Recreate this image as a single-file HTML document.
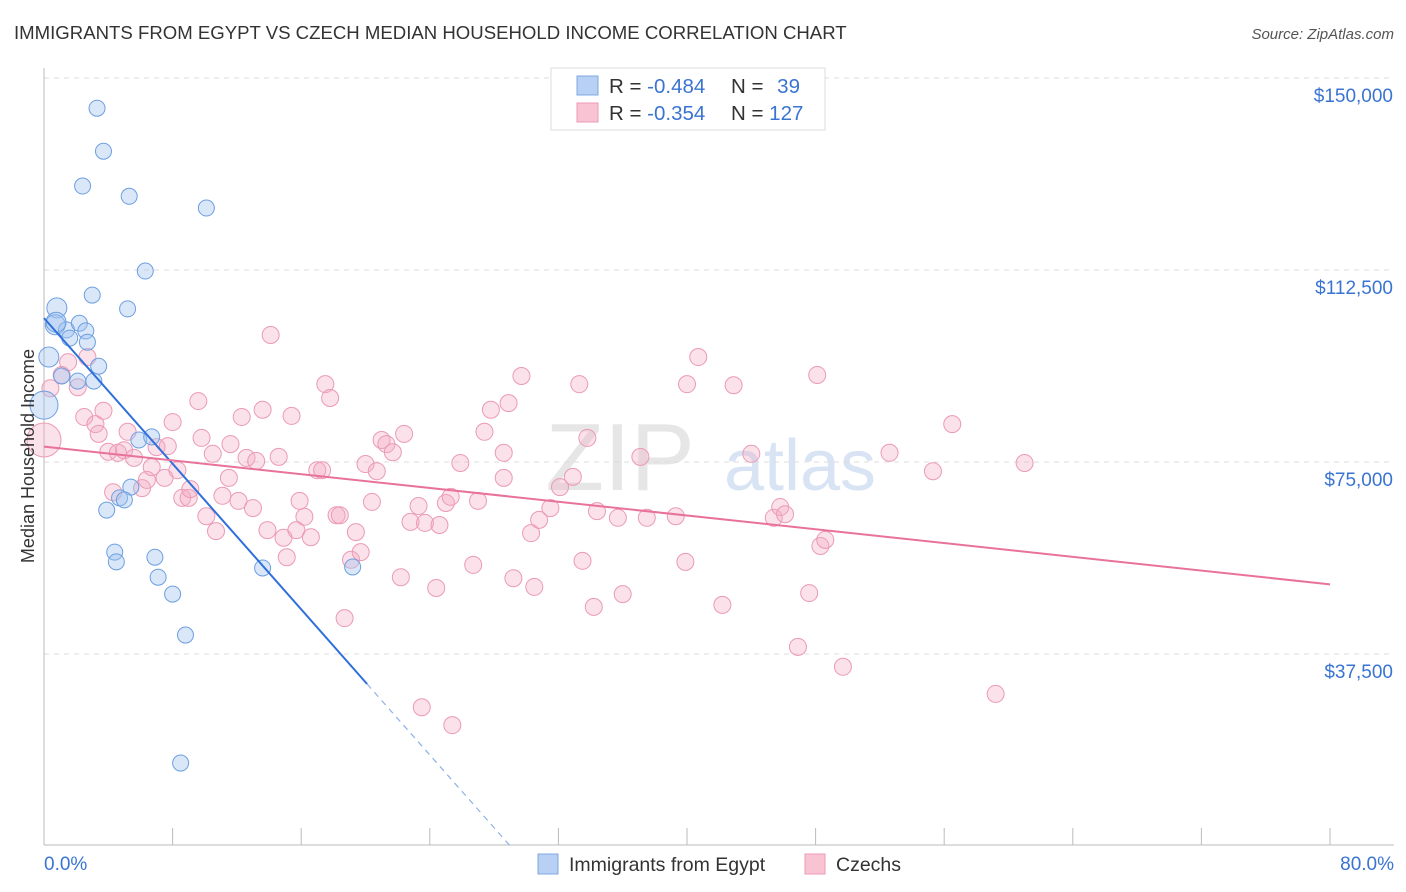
<!DOCTYPE html>
<html><head><meta charset="utf-8">
<style>
body{margin:0;background:#fff;font-family:"Liberation Sans",sans-serif;overflow:hidden;}
svg text{font-family:"Liberation Sans",sans-serif;}
</style></head>
<body>
<svg id="chart" width="1406" height="892" style="display:block">
  <text x="14" y="39" font-size="18.6" fill="#333">IMMIGRANTS FROM EGYPT VS CZECH MEDIAN HOUSEHOLD INCOME CORRELATION CHART</text>
  <text x="1394" y="39" font-size="15" fill="#555" font-style="italic" text-anchor="end">Source: ZipAtlas.com</text>
  <text x="620" y="490" font-size="96" fill="#e6e6e6" font-family="Liberation Serif" text-anchor="middle">ZIP</text>
  <text x="800" y="490" font-size="72" fill="#d8e4f4" text-anchor="middle">atlas</text>
  <g id="grid"></g>
  <g id="axes"></g>
  <g id="pts"></g>
  <g id="trends"></g>
  <text transform="translate(34,456) rotate(-90)" font-size="18" fill="#333" text-anchor="middle">Median Household Income</text>
  <g>
    <rect x="551" y="68" width="274" height="62" fill="#fff" stroke="#ddd"/>
    <rect x="577" y="76" width="21" height="19" fill="#b7d0f4" stroke="#7fa8e0"/>
    <rect x="577" y="103" width="21" height="19" fill="#f8c4d4" stroke="#ee9ab6"/>
    <text x="609" y="93" font-size="20.5" fill="#333">R = <tspan fill="#3a74d2">-0.484</tspan></text>
    <text x="731" y="93" font-size="20.5" fill="#333">N = <tspan fill="#3a74d2" dx="8">39</tspan></text>
    <text x="609" y="120" font-size="20.5" fill="#333">R = <tspan fill="#3a74d2">-0.354</tspan></text>
    <text x="731" y="120" font-size="20.5" fill="#333">N = <tspan fill="#3a74d2">127</tspan></text>
  </g>
  <g>
    <rect x="538" y="854" width="20" height="20" fill="#b7d0f4" stroke="#7fa8e0"/>
    <text x="569" y="871" font-size="19.5" fill="#333">Immigrants from Egypt</text>
    <rect x="805" y="854" width="20" height="20" fill="#f8c4d4" stroke="#ee9ab6"/>
    <text x="836" y="871" font-size="19.5" fill="#333">Czechs</text>
  </g>
</svg>
<script>
const yTicks=[37.5,75,112.5,150];
const yTickLabels=["$37,500","$75,000","$112,500","$150,000"];
const xTickCount=10;
const egyptX=[3.3,3.7,2.4,5.3,10.1,6.3,3.0,0.8,5.2,0.7,1.4,2.2,2.6,1.6,2.7,0.3,3.4,1.1,2.1,3.1,0.0,5.9,6.7,5.4,4.7,5.0,3.9,4.4,4.5,6.9,7.1,8.0,8.8,13.6,19.2,8.5,0.75];
const egyptY=[144.1,135.7,128.9,126.9,124.6,112.3,107.6,105.1,104.9,101.8,100.8,102.1,100.6,99.2,98.4,95.5,93.7,91.8,90.8,90.8,86.1,79.3,79.9,70.1,68.0,67.6,65.6,57.4,55.5,56.4,52.5,49.2,41.2,54.3,54.5,16.2,102.3];
const czechX=[0,0.4,1.1,1.5,2.1,2.7,2.5,3.2,3.4,3.7,4.0,4.6,4.98,5.2,5.6,4.3,6.1,6.4,6.7,7.0,7.5,7.7,8.0,8.3,8.6,9.0,9.1,9.6,9.8,10.1,10.5,10.7,11.1,11.5,11.6,12.1,12.3,12.6,13.0,13.2,13.6,13.9,14.1,14.6,14.9,15.1,15.4,15.7,15.9,16.2,16.6,17.0,17.3,17.5,17.8,18.2,18.4,18.7,19.1,19.4,19.7,20.0,20.4,20.7,21.0,21.3,21.7,22.2,22.4,22.8,23.3,23.5,23.7,24.4,24.6,25.0,25.3,25.4,25.9,26.7,27.0,27.4,27.8,28.6,28.6,28.9,29.2,29.7,30.3,30.5,30.8,31.5,32.1,32.9,33.3,33.5,33.8,34.2,34.4,35.7,36.0,37.1,37.5,39.3,39.9,40.0,40.7,42.2,42.9,44.0,45.4,45.8,46.1,46.9,47.6,48.1,48.3,48.6,49.7,52.6,55.3,56.5,59.2,61.0];
const czechY=[79.3,89.4,92,94.5,89.6,95.5,83.8,82.4,80.5,85,77,76.8,77.3,80.9,75.8,69.1,69.9,71.5,74,77.9,71.9,78.1,82.8,73.4,68,68,69.7,86.9,79.7,64.4,76.6,61.5,68.4,71.9,78.5,67.4,83.8,75.8,66,75.2,85.2,61.7,99.8,76,60.2,56.4,84,61.7,67.4,64.3,60.3,73.4,73.4,90.2,87.5,64.6,64.6,44.5,55.9,61.3,57.4,74.6,67.2,73.2,79.3,78.5,76.9,52.5,80.5,63.3,66.4,27.1,63.1,50.4,62.7,67,68.2,23.6,74.8,54.9,67.4,80.9,85.2,76.8,71.9,86.5,52.3,91.8,61.1,50.6,63.7,66,70.1,72.1,90.2,55.7,79.7,46.7,65.4,64.1,49.2,76,64.1,64.4,55.5,90.2,95.5,47.1,90,76.6,64.1,66.2,64.8,38.9,49.4,92,58.6,59.8,35,76.8,73.2,82.4,29.7,74.8];
const egyptTrend=[0,103.1,20,32.0];
const czechTrend=[0,78.0,80,51.1];
const egyptSolidEnd=20.1;

const NS="http://www.w3.org/2000/svg";
const X=v=>44+v*(1330-44)/80;
const Y=v=>846-v*192/37.5;
function mk(tag,attrs,parent){const e=document.createElementNS(NS,tag);for(const k in attrs)e.setAttribute(k,attrs[k]);parent.appendChild(e);return e;}
const grid=document.getElementById('grid'),axes=document.getElementById('axes'),pts=document.getElementById('pts'),tr=document.getElementById('trends');
yTicks.forEach((t,i)=>{
  const l=mk('line',{x1:44,x2:1394,y1:Y(t),y2:Y(t),stroke:'#dcdcdc','stroke-dasharray':'5,5'},grid);
  
  
  const tx=mk('text',{x:1393,y:Y(t)+24,'font-size':19,fill:'#3a74d2','text-anchor':'end'},axes);
  tx.textContent=yTickLabels[i];
  
  
});
const ax=mk('line',{x1:44,x2:1394,y1:845,y2:845,stroke:'#bbb'},axes);


const ay=mk('line',{x1:44,x2:44,y1:68,y2:845,stroke:'#bbb'},axes);


for(let i=0;i<=xTickCount;i++){
  const t=mk('line',{x1:X(i*8),x2:X(i*8),y1:828,y2:845,stroke:'#bbb'},axes);
  
  
}
const xl0=mk('text',{x:44,y:870,'font-size':19,fill:'#3a74d2'},axes);xl0.textContent='0.0%';


const xl1=mk('text',{x:1394,y:870,'font-size':19,fill:'#3a74d2','text-anchor':'end'},axes);xl1.textContent='80.0%';



czechX.forEach((x,i)=>{
  const r=x===0?17:8.5;
  const c=mk('circle',{cx:X(x),cy:Y(czechY[i]),r:r,fill:'rgba(244,170,196,0.35)',stroke:'#eb9ab6','stroke-width':1},pts);
  
  
});
egyptX.forEach((x,i)=>{
  const r=x===0?14:(x<1?10:8);
  const c=mk('circle',{cx:X(x),cy:Y(egyptY[i]),r:r,fill:'rgba(160,195,240,0.4)',stroke:'#6d9fe0','stroke-width':1},pts);
  
  
});
const slope=(egyptTrend[3]-egyptTrend[1])/(egyptTrend[2]-egyptTrend[0]);
const ey=x=>egyptTrend[1]+slope*x;
const e1=mk('line',{x1:X(0),y1:Y(ey(0)),x2:X(egyptSolidEnd),y2:Y(ey(egyptSolidEnd)),stroke:'#2f6fdc','stroke-width':2},tr);


const xz=-egyptTrend[1]/slope;
const e2=mk('line',{x1:X(egyptSolidEnd),y1:Y(ey(egyptSolidEnd)),x2:X(xz),y2:Y(0),stroke:'#8fb1e8','stroke-width':1.2,'stroke-dasharray':'6,5'},tr);


const c1=mk('line',{x1:X(czechTrend[0]),y1:Y(czechTrend[1]),x2:X(czechTrend[2]),y2:Y(czechTrend[3]),stroke:'#e8729a','stroke-width':2},tr);


</script>
</body></html>
